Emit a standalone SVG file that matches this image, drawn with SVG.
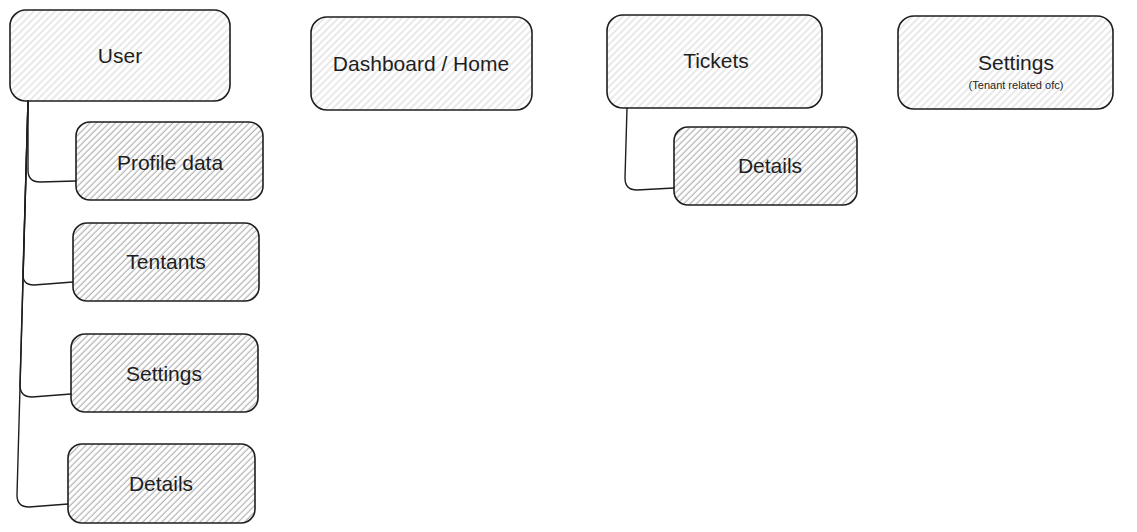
<svg xmlns="http://www.w3.org/2000/svg" width="1137" height="532" viewBox="0 0 1137 532">
  <defs>
    <pattern id="hLight" patternUnits="userSpaceOnUse" width="5" height="5" patternTransform="rotate(45)">
      <line x1="2" y1="0" x2="2" y2="5" stroke="#c8c8c8" stroke-width="0.8"/>
    </pattern>
    <pattern id="hDark" patternUnits="userSpaceOnUse" width="4.5" height="4.5" patternTransform="rotate(45)">
      <line x1="2" y1="0" x2="2" y2="4.5" stroke="#9a9a9a" stroke-width="0.9"/>
    </pattern>
  </defs>
  <style>
    .box { stroke: #1e1e1e; stroke-width: 1.6; }
    .light { fill: url(#hLight); }
    .dark { fill: url(#hDark); }
    .lbl { font-family: "Liberation Sans", "DejaVu Sans", sans-serif; font-size: 21px; fill: #1e1e1e; text-anchor: middle; dominant-baseline: central; }
    .sub { font-family: "Liberation Sans", "DejaVu Sans", sans-serif; font-size: 11px; fill: #1e1e1e; text-anchor: middle; dominant-baseline: central; }
    .conn { fill: none; stroke: #1e1e1e; stroke-width: 1.4; stroke-linecap: round; stroke-linejoin: round; }
  </style>
  <rect width="1137" height="532" fill="#ffffff"/>

  <g id="connectors">
    <path class="conn" d="M28,101 L28,170 Q28,182 40,182 L76,181"/>
    <path class="conn" d="M28,101 L23,273 Q22,285 34,285 L73,282"/>
    <path class="conn" d="M28,101 L20,385 Q20,397 32,397 L71,394"/>
    <path class="conn" d="M28,101 L17,495 Q17,507 29,507 L68,504"/>
    <path class="conn" d="M627,108 L625,178 Q625,190 637,190 L674,188"/>
  </g>

  <g id="user">
    <rect class="box light" x="10" y="10" width="220" height="91" rx="16"/>
    <text class="lbl" x="120" y="55">User</text>
  </g>
  <g id="profile-data">
    <rect class="box dark" x="76" y="122" width="187" height="78" rx="14"/>
    <text class="lbl" x="170" y="162">Profile data</text>
  </g>
  <g id="tentants">
    <rect class="box dark" x="73" y="223" width="186" height="78" rx="14"/>
    <text class="lbl" x="166" y="261">Tentants</text>
  </g>
  <g id="user-settings">
    <rect class="box dark" x="71" y="334" width="187" height="78" rx="14"/>
    <text class="lbl" x="164" y="373">Settings</text>
  </g>
  <g id="user-details">
    <rect class="box dark" x="68" y="444" width="187" height="79" rx="14"/>
    <text class="lbl" x="161" y="483">Details</text>
  </g>
  <g id="dashboard">
    <rect class="box light" x="311" y="17" width="221" height="93" rx="16"/>
    <text class="lbl" x="421" y="63">Dashboard / Home</text>
  </g>
  <g id="tickets">
    <rect class="box light" x="607" y="15" width="215" height="93" rx="16"/>
    <text class="lbl" x="716" y="60">Tickets</text>
  </g>
  <g id="ticket-details">
    <rect class="box dark" x="674" y="127" width="183" height="78" rx="14"/>
    <text class="lbl" x="770" y="165">Details</text>
  </g>
  <g id="settings">
    <rect class="box light" x="898" y="16" width="215" height="93" rx="16"/>
    <text class="lbl" x="1016" y="62">Settings</text>
    <text class="sub" x="1016" y="85">(Tenant related ofc)</text>
  </g>
</svg>
